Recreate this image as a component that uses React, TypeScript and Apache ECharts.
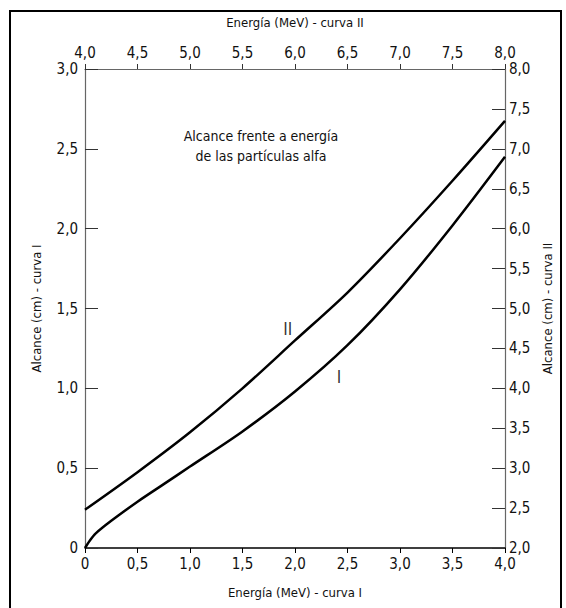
import React, { useEffect, useRef } from "react";
import * as echarts from "echarts";

// Curve I: energy 0–4 MeV (bottom axis), range in cm (left axis)
const energyI = [0, 0.05, 0.1, 0.25, 0.5, 0.75, 1.0, 1.5, 2.0, 2.5, 3.0, 3.5, 4.0];
const rangeI = [0, 0.05, 0.09, 0.17, 0.29, 0.4, 0.51, 0.73, 0.98, 1.27, 1.62, 2.02, 2.45];

// Curve II: energy 4–8 MeV (top axis), range in cm (right axis)
const energyII = [4.0, 4.5, 5.0, 5.5, 6.0, 6.5, 7.0, 7.5, 8.0];
const rangeII = [2.48, 2.95, 3.45, 4.0, 4.6, 5.2, 5.88, 6.6, 7.35];

// Curve labels (bottom/left axes)
const curveLabels = ["II", "I"];
const curveLabelX = [1.93, 2.42];
const curveLabelY = [1.37, 1.07];

const title = "Alcance frente a energía\nde las partículas alfa";
const xNameBottom = "Energía (MeV) - curva I";
const xNameTop = "Energía (MeV) - curva II";
const yNameLeft = "Alcance (cm) - curva I";
const yNameRight = "Alcance (cm) - curva II";

const FONT = "'Liberation Sans Narrow', 'DejaVu Sans Condensed', 'DejaVu Sans', sans-serif";

const fmt = (v: number) => (v === 0 ? "0" : v.toFixed(1).replace(".", ","));

export default function App() {
  const ref = useRef<HTMLDivElement>(null);
  useEffect(() => {
    if (!ref.current) return;
    const chart = echarts.init(ref.current, null, { renderer: "svg" });
    const labelStyle = { fontFamily: FONT, fontSize: 15, color: "#111" };
    const nameStyle = { fontFamily: FONT, fontSize: 13, color: "#111" };
    chart.setOption({
      animation: false,
      backgroundColor: "#fff",
      grid: { left: 85, right: 61, top: 69, bottom: 60, containLabel: false },
      xAxis: [
        {
          type: "value",
          position: "bottom",
          min: 0,
          max: 4,
          interval: 0.5,
          name: xNameBottom,
          nameLocation: "middle",
          nameGap: 38,
          nameTextStyle: nameStyle,
          axisLine: { show: true, onZero: false, lineStyle: { color: "#000", width: 1.5 } },
          axisTick: { show: true, inside: false, length: 5, lineStyle: { color: "#000" } },
          axisLabel: { ...labelStyle, margin: 8, formatter: fmt },
          splitLine: { show: false },
        },
        {
          type: "value",
          position: "top",
          min: 4,
          max: 8,
          interval: 0.5,
          name: xNameTop,
          nameLocation: "middle",
          nameGap: 40,
          nameTextStyle: nameStyle,
          axisLine: { show: true, onZero: false, lineStyle: { color: "#666", width: 1.2 } },
          axisTick: { show: true, inside: false, length: 5, lineStyle: { color: "#333" } },
          axisLabel: { ...labelStyle, margin: 9, formatter: fmt },
          splitLine: { show: false },
        },
      ],
      yAxis: [
        {
          type: "value",
          position: "left",
          min: 0,
          max: 3,
          interval: 0.5,
          name: yNameLeft,
          nameLocation: "middle",
          nameGap: 42,
          nameRotate: 90,
          nameTextStyle: nameStyle,
          axisLine: { show: true, onZero: false, lineStyle: { color: "#666", width: 1.2 } },
          axisTick: { show: true, inside: true, length: 13, lineStyle: { color: "#333" } },
          axisLabel: { ...labelStyle, margin: 7, formatter: fmt },
          splitLine: { show: false },
        },
        {
          type: "value",
          position: "right",
          min: 2,
          max: 8,
          interval: 0.5,
          name: yNameRight,
          nameLocation: "middle",
          nameGap: 30,
          nameRotate: 90,
          nameTextStyle: nameStyle,
          axisLine: { show: true, onZero: false, lineStyle: { color: "#666", width: 1.2 } },
          axisTick: { show: true, inside: true, length: 13, lineStyle: { color: "#333" } },
          axisLabel: { ...labelStyle, margin: 4, formatter: fmt },
          splitLine: { show: false },
        },
      ],
      series: [
        {
          type: "line",
          name: "I",
          xAxisIndex: 0,
          yAxisIndex: 0,
          data: energyI.map((e, i) => [e, rangeI[i]]),
          smooth: 0.3,
          showSymbol: false,
          lineStyle: { color: "#000", width: 2.5 },
        },
        {
          type: "line",
          name: "II",
          xAxisIndex: 1,
          yAxisIndex: 1,
          data: energyII.map((e, i) => [e, rangeII[i]]),
          smooth: 0.3,
          showSymbol: false,
          lineStyle: { color: "#000", width: 2.5 },
        },
        {
          type: "scatter",
          xAxisIndex: 0,
          yAxisIndex: 0,
          symbolSize: 0,
          data: curveLabels.map((n, i) => ({ value: [curveLabelX[i], curveLabelY[i]], name: n })),
          label: {
            show: true,
            position: "inside",
            formatter: (p: any) => p.name,
            fontFamily: FONT,
            fontSize: 17,
            color: "#000",
          },
          silent: true,
        },
      ],
      graphic: [
        {
          type: "rect",
          shape: { x: 10, y: 11, width: 551, height: 620 },
          style: { fill: "none", stroke: "#000", lineWidth: 2 },
          silent: true,
        },
        {
          type: "text",
          x: 261,
          y: 146,
          style: {
            text: title,
            fontFamily: FONT,
            fontSize: 14,
            lineHeight: 20,
            fill: "#111",
            align: "center",
            verticalAlign: "middle",
          },
          silent: true,
        },
      ],
    });
    return () => chart.dispose();
  }, []);
  return (
    <div
      ref={ref}
      style={{ position: "absolute", left: 0, top: 0, width: 566, height: 608 }}
    />
  );
}
